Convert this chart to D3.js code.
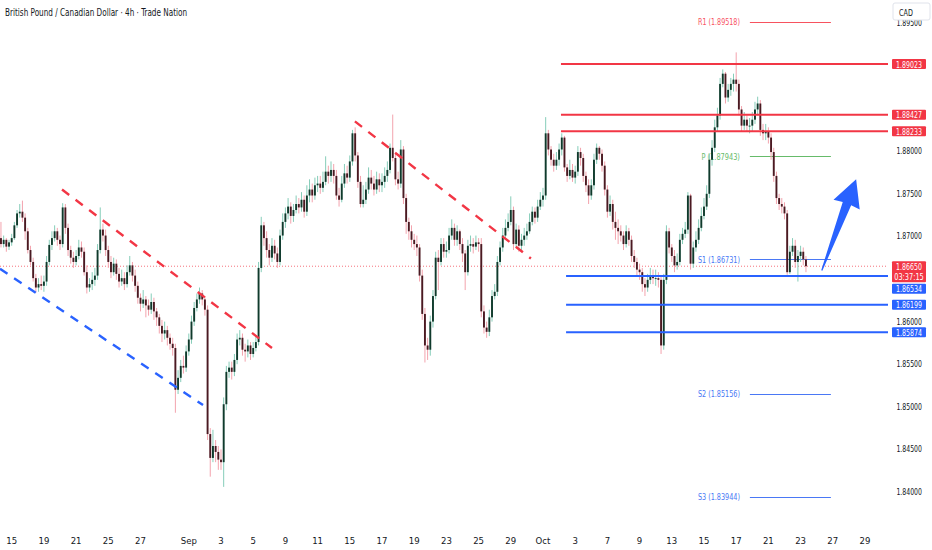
<!DOCTYPE html>
<html lang="en">
<head>
<meta charset="utf-8">
<title>GBPCAD 4h</title>
<script src="https://cdn.jsdelivr.net/npm/d3@7"></script>
<style>
  body { margin: 0; background: #fff; }
  text { font-family: "DejaVu Sans Condensed", "Roboto", sans-serif; }
</style>
</head>
<body>
<script>
var width = 932, height = 550;
var plotRight = 888;

// 4h bars, six per trading day, first bar = Aug 14 00:00
var firstOpen = 1.8696;
var closes = [
  1.8694, 1.8698, 1.8691, 1.8696, 1.8688, 1.8693,  // Aug 14
  1.8698, 1.8713, 1.8727, 1.8729, 1.8722, 1.8706,  // Aug 15
  1.8684, 1.8670, 1.8651, 1.8640, 1.8644, 1.8642,  // Aug 18
  1.8647, 1.8670, 1.8690, 1.8698, 1.8706, 1.8696,  // Aug 19
  1.8691, 1.8734, 1.8710, 1.8684, 1.8675, 1.8670,  // Aug 20
  1.8677, 1.8687, 1.8682, 1.8658, 1.8640, 1.8644,  // Aug 21
  1.8649, 1.8654, 1.8684, 1.8708, 1.8701, 1.8684,  // Aug 22
  1.8670, 1.8658, 1.8668, 1.8656, 1.8647, 1.8651,  // Aug 25
  1.8644, 1.8658, 1.8666, 1.8654, 1.8642, 1.8628,  // Aug 26
  1.8621, 1.8626, 1.8619, 1.8614, 1.8623, 1.8612,  // Aug 27
  1.8605, 1.8595, 1.8586, 1.8590, 1.8581, 1.8574,  // Aug 28
  1.8569, 1.8520, 1.8534, 1.8548, 1.8546, 1.8565,  // Aug 29
  1.8579, 1.8600, 1.8616, 1.8626, 1.8633, 1.8626,  // Sep 1
  1.8614, 1.8468, 1.8440, 1.8454, 1.8447, 1.8438,  // Sep 2
  1.8435, 1.8503, 1.8541, 1.8546, 1.8541, 1.8555,  // Sep 3
  1.8579, 1.8581, 1.8567, 1.8565, 1.8572, 1.8562,  // Sep 4
  1.8569, 1.8576, 1.8663, 1.8713, 1.8698, 1.8684,  // Sep 5
  1.8675, 1.8689, 1.8680, 1.8670, 1.8701, 1.8717,  // Sep 8
  1.8727, 1.8735, 1.8724, 1.8731, 1.8738, 1.8734,  // Sep 9
  1.8743, 1.8729, 1.8748, 1.8755, 1.8748, 1.8760,  // Sep 10
  1.8762, 1.8757, 1.8764, 1.8776, 1.8771, 1.8778,  // Sep 11
  1.8771, 1.8748, 1.8743, 1.8762, 1.8774, 1.8769,  // Sep 12
  1.8788, 1.8821, 1.8795, 1.8764, 1.8738, 1.8743,  // Sep 15
  1.8755, 1.8769, 1.8762, 1.8755, 1.8767, 1.8760,  // Sep 16
  1.8764, 1.8771, 1.8778, 1.8804, 1.8792, 1.8767,  // Sep 17
  1.8762, 1.8802, 1.8745, 1.8717, 1.8706, 1.8696,  // Sep 18
  1.8691, 1.8687, 1.8654, 1.8609, 1.8572, 1.8567,  // Sep 19
  1.8600, 1.8630, 1.8675, 1.8670, 1.8691, 1.8682,  // Sep 22
  1.8684, 1.8701, 1.8710, 1.8696, 1.8706, 1.8691,  // Sep 23
  1.8680, 1.8658, 1.8689, 1.8691, 1.8688, 1.8693,  // Sep 24
  1.8691, 1.8612, 1.8593, 1.8588, 1.8605, 1.8630,  // Sep 25
  1.8635, 1.8670, 1.8687, 1.8701, 1.8710, 1.8717,  // Sep 26
  1.8731, 1.8691, 1.8708, 1.8689, 1.8696, 1.8701,  // Sep 29
  1.8706, 1.8717, 1.8729, 1.8722, 1.8735, 1.8743,  // Sep 30
  1.8748, 1.8821, 1.8802, 1.8790, 1.8783, 1.8790,  // Oct 1
  1.8802, 1.8816, 1.8781, 1.8771, 1.8778, 1.8769,  // Oct 2
  1.8776, 1.8799, 1.8792, 1.8771, 1.8760, 1.8748,  // Oct 3
  1.8760, 1.8790, 1.8804, 1.8797, 1.8783, 1.8755,  // Oct 6
  1.8729, 1.8738, 1.8717, 1.8710, 1.8706, 1.8701,  // Oct 7
  1.8691, 1.8706, 1.8696, 1.8677, 1.8670, 1.8661,  // Oct 8
  1.8658, 1.8644, 1.8640, 1.8649, 1.8654, 1.8651,  // Oct 9
  1.8651, 1.8649, 1.8572, 1.8649, 1.8706, 1.8687,  // Oct 10
  1.8677, 1.8666, 1.8670, 1.8696, 1.8703, 1.8708,  // Oct 13
  1.8748, 1.8668, 1.8687, 1.8696, 1.8710, 1.8724,  // Oct 14
  1.8735, 1.8750, 1.8790, 1.8804, 1.8828, 1.8842,  // Oct 15
  1.8879, 1.8891, 1.8863, 1.8872, 1.8879, 1.8884,  // Oct 16
  1.8879, 1.8849, 1.8830, 1.8837, 1.8830, 1.8830,  // Oct 17
  1.8837, 1.8849, 1.8856, 1.8825, 1.8821, 1.8823,  // Oct 20
  1.8816, 1.8799, 1.8771, 1.8745, 1.8738, 1.8735,  // Oct 21
  1.8727, 1.8658, 1.8682, 1.8689, 1.8670, 1.8677,  // Oct 22
  1.8682, 1.8673, 1.8665                           // Oct 23
];
var highs = [
  1.8701, 1.8703, 1.8717, 1.8701, 1.8698, 1.8696,
  1.8703, 1.8717, 1.8731, 1.8738, 1.8742, 1.8727,
  1.8710, 1.8689, 1.8675, 1.8656, 1.8651, 1.8654,
  1.8654, 1.8677, 1.8696, 1.8706, 1.8713, 1.8710,
  1.8701, 1.8739, 1.8738, 1.8715, 1.8689, 1.8682,
  1.8684, 1.8696, 1.8694, 1.8687, 1.8666, 1.8651,
  1.8658, 1.8663, 1.8691, 1.8734, 1.8715, 1.8708,
  1.8689, 1.8677, 1.8675, 1.8673, 1.8663, 1.8661,
  1.8658, 1.8666, 1.8677, 1.8670, 1.8661, 1.8647,
  1.8633, 1.8637, 1.8630, 1.8626, 1.8633, 1.8628,
  1.8616, 1.8609, 1.8602, 1.8600, 1.8595, 1.8586,
  1.8581, 1.8574, 1.8543, 1.8555, 1.8560, 1.8572,
  1.8586, 1.8607, 1.8623, 1.8633, 1.8640, 1.8637,
  1.8630, 1.8619, 1.8475, 1.8473, 1.8461, 1.8454,
  1.8450, 1.8511, 1.8548, 1.8553, 1.8553, 1.8562,
  1.8586, 1.8590, 1.8586, 1.8574, 1.8579, 1.8576,
  1.8576, 1.8583, 1.8670, 1.8723, 1.8717, 1.8706,
  1.8691, 1.8698, 1.8696, 1.8687, 1.8708, 1.8727,
  1.8734, 1.8745, 1.8740, 1.8738, 1.8748, 1.8745,
  1.8752, 1.8748, 1.8760, 1.8767, 1.8762, 1.8769,
  1.8771, 1.8771, 1.8776, 1.8794, 1.8783, 1.8788,
  1.8785, 1.8778, 1.8757, 1.8771, 1.8785, 1.8783,
  1.8795, 1.8825, 1.8828, 1.8799, 1.8771, 1.8760,
  1.8764, 1.8781, 1.8778, 1.8771, 1.8776, 1.8774,
  1.8774, 1.8781, 1.8788, 1.8809, 1.8843, 1.8797,
  1.8776, 1.8813, 1.8806, 1.8750, 1.8722, 1.8713,
  1.8703, 1.8701, 1.8691, 1.8661, 1.8616, 1.8581,
  1.8607, 1.8637, 1.8682, 1.8684, 1.8698, 1.8698,
  1.8694, 1.8710, 1.8720, 1.8715, 1.8713, 1.8708,
  1.8698, 1.8684, 1.8696, 1.8701, 1.8698, 1.8701,
  1.8698, 1.8698, 1.8619, 1.8600, 1.8614, 1.8637,
  1.8644, 1.8677, 1.8694, 1.8710, 1.8720, 1.8727,
  1.8747, 1.8735, 1.8715, 1.8713, 1.8703, 1.8710,
  1.8715, 1.8727, 1.8735, 1.8734, 1.8743, 1.8752,
  1.8757, 1.8840, 1.8825, 1.8806, 1.8797, 1.8799,
  1.8809, 1.8821, 1.8818, 1.8785, 1.8790, 1.8785,
  1.8783, 1.8806, 1.8804, 1.8797, 1.8776, 1.8767,
  1.8767, 1.8797, 1.8809, 1.8806, 1.8802, 1.8788,
  1.8760, 1.8748, 1.8743, 1.8729, 1.8720, 1.8713,
  1.8706, 1.8713, 1.8710, 1.8701, 1.8684, 1.8675,
  1.8668, 1.8663, 1.8651, 1.8656, 1.8663, 1.8661,
  1.8661, 1.8658, 1.8654, 1.8656, 1.8713, 1.8710,
  1.8691, 1.8684, 1.8680, 1.8703, 1.8710, 1.8717,
  1.8752, 1.8750, 1.8694, 1.8706, 1.8720, 1.8734,
  1.8745, 1.8760, 1.8797, 1.8813, 1.8837, 1.8851,
  1.8886, 1.8896, 1.8893, 1.8879, 1.8886, 1.8891,
  1.8916, 1.8884, 1.8853, 1.8846, 1.8842, 1.8839,
  1.8846, 1.8858, 1.8864, 1.8860, 1.8832, 1.8832,
  1.8828, 1.8821, 1.8804, 1.8776, 1.8750, 1.8745,
  1.8740, 1.8731, 1.8689, 1.8698, 1.8696, 1.8684,
  1.8689, 1.8687, 1.8677
];
var lows = [
  1.8689, 1.8690, 1.8687, 1.8687, 1.8682, 1.8684,
  1.8689, 1.8696, 1.8710, 1.8722, 1.8717, 1.8696,
  1.8680, 1.8666, 1.8647, 1.8634, 1.8635, 1.8637,
  1.8635, 1.8642, 1.8666, 1.8684, 1.8694, 1.8689,
  1.8684, 1.8687, 1.8703, 1.8677, 1.8668, 1.8663,
  1.8666, 1.8673, 1.8675, 1.8654, 1.8633, 1.8635,
  1.8637, 1.8642, 1.8649, 1.8680, 1.8694, 1.8677,
  1.8663, 1.8651, 1.8654, 1.8649, 1.8640, 1.8642,
  1.8637, 1.8640, 1.8654, 1.8647, 1.8635, 1.8621,
  1.8612, 1.8616, 1.8605, 1.8607, 1.8609, 1.8602,
  1.8595, 1.8586, 1.8576, 1.8579, 1.8572, 1.8567,
  1.8560, 1.8493, 1.8515, 1.8529, 1.8539, 1.8541,
  1.8560, 1.8574, 1.8595, 1.8612, 1.8621, 1.8619,
  1.8607, 1.8461, 1.8418, 1.8435, 1.8435, 1.8426,
  1.8426, 1.8406, 1.8496, 1.8534, 1.8532, 1.8536,
  1.8550, 1.8572, 1.8560, 1.8553, 1.8558, 1.8555,
  1.8558, 1.8565, 1.8572, 1.8658, 1.8689, 1.8675,
  1.8666, 1.8670, 1.8673, 1.8663, 1.8666, 1.8696,
  1.8710, 1.8720, 1.8715, 1.8717, 1.8727, 1.8727,
  1.8729, 1.8722, 1.8724, 1.8740, 1.8740, 1.8743,
  1.8752, 1.8750, 1.8752, 1.8760, 1.8762, 1.8764,
  1.8762, 1.8743, 1.8735, 1.8740, 1.8757, 1.8762,
  1.8764, 1.8783, 1.8788, 1.8757, 1.8734, 1.8734,
  1.8738, 1.8750, 1.8755, 1.8748, 1.8750, 1.8752,
  1.8752, 1.8757, 1.8764, 1.8774, 1.8788, 1.8760,
  1.8755, 1.8757, 1.8738, 1.8703, 1.8696, 1.8687,
  1.8684, 1.8677, 1.8647, 1.8602, 1.8552, 1.8555,
  1.8560, 1.8593, 1.8626, 1.8637, 1.8666, 1.8675,
  1.8675, 1.8680, 1.8696, 1.8689, 1.8689, 1.8684,
  1.8670, 1.8637, 1.8654, 1.8682, 1.8680, 1.8684,
  1.8682, 1.8605, 1.8586, 1.8581, 1.8583, 1.8600,
  1.8626, 1.8630, 1.8666, 1.8682, 1.8696, 1.8706,
  1.8713, 1.8684, 1.8687, 1.8682, 1.8684, 1.8689,
  1.8696, 1.8703, 1.8713, 1.8715, 1.8717, 1.8731,
  1.8735, 1.8743, 1.8795, 1.8783, 1.8776, 1.8778,
  1.8783, 1.8795, 1.8776, 1.8764, 1.8767, 1.8764,
  1.8762, 1.8771, 1.8783, 1.8764, 1.8752, 1.8738,
  1.8743, 1.8755, 1.8785, 1.8790, 1.8776, 1.8748,
  1.8722, 1.8724, 1.8708, 1.8696, 1.8691, 1.8694,
  1.8684, 1.8687, 1.8689, 1.8670, 1.8663, 1.8654,
  1.8649, 1.8635, 1.8630, 1.8635, 1.8644, 1.8644,
  1.8642, 1.8640, 1.8562, 1.8567, 1.8644, 1.8680,
  1.8670, 1.8658, 1.8661, 1.8666, 1.8691, 1.8698,
  1.8703, 1.8661, 1.8663, 1.8682, 1.8691, 1.8706,
  1.8720, 1.8731, 1.8745, 1.8783, 1.8799, 1.8823,
  1.8837, 1.8875, 1.8856, 1.8858, 1.8865, 1.8870,
  1.8870, 1.8842, 1.8823, 1.8825, 1.8823, 1.8821,
  1.8823, 1.8832, 1.8842, 1.8818, 1.8813, 1.8813,
  1.8809, 1.8790, 1.8764, 1.8738, 1.8731, 1.8727,
  1.8720, 1.8655, 1.8656, 1.8677, 1.8663, 1.8647,
  1.8670, 1.8666, 1.8658
];

var lastPrice = 1.86650;
var countdown = "03:37:15";

// axis labels (first bar of the day)
var tickDates = ["2025-08-15","2025-08-19","2025-08-21","2025-08-25","2025-08-27","2025-09-01","2025-09-03",
  "2025-09-05","2025-09-09","2025-09-11","2025-09-15","2025-09-17","2025-09-19","2025-09-23","2025-09-25",
  "2025-09-29","2025-10-01","2025-10-03","2025-10-07","2025-10-09","2025-10-13","2025-10-15","2025-10-17",
  "2025-10-21","2025-10-23","2025-10-27","2025-10-29"];
var tickTexts = ["15","19","21","25","27","Sep","3","5","9","11","15","17","19","23","25","29","Oct","3","7",
  "9","13","15","17","21","23","27","29"];
var priceTicks = [1.840, 1.845, 1.850, 1.855, 1.860, 1.865, 1.870, 1.875, 1.880, 1.885, 1.890, 1.895];

var resistance = [1.89023, 1.88427, 1.88233];
var support = [1.86534, 1.86199, 1.85874];
var pivotNames = ["R1", "P", "S1", "S2", "S3"];
var pivotValues = [1.89518, 1.87943, 1.86731, 1.85156, 1.83944];
var pivotColors = ["#f7525f", "#66bb6a", "#4a78f5", "#4a78f5", "#4a78f5"];

// dashed channel lines: [bar, price] end points
var trendLines = [
  { color: "#2962ff", from: [1.64, 1.8662], to: [77.3, 1.8502] },
  { color: "#f23645", from: [24.75, 1.8755], to: [103.0, 1.8569] },
  { color: "#f23645", from: [133.9, 1.8835], to: [199.5, 1.8674] }
];
var arrowFrom = [307.9, 1.8660], arrowTo = [320.7, 1.8767];

// trading days (weekends skipped), six 4h bars each
var tradingDays = d3.timeDays(new Date(2025, 7, 14), new Date(2025, 9, 30))
  .filter(function(d) { return d.getDay() % 6 !== 0; });
var fmtDay = d3.timeFormat("%Y-%m-%d");
var dayKeys = tradingDays.map(fmtDay);

var x = d3.scaleLinear().domain([0, 330]).range([-4.4, -4.4 + 330 * 2.6833]);
var y = d3.scaleLinear().domain([1.84, 1.895]).range([492, 23.4]);

var bars = closes.map(function(c, i) {
  return { i: i, o: i === 0 ? firstOpen : closes[i - 1], h: highs[i], l: lows[i], c: c };
});

var svg = d3.select("body").append("svg")
  .attr("width", width).attr("height", height)
  .style("display", "block");

svg.append("rect").attr("width", width).attr("height", height).attr("fill", "#ffffff");

svg.append("clipPath").attr("id", "plot")
  .append("rect").attr("x", 0).attr("y", 0).attr("width", plotRight).attr("height", 530);

var plot = svg.append("g").attr("clip-path", "url(#plot)");

// narrow text helper: the chart font is condensed
function narrow(sel, str, perChar) {
  return sel.text(str).attr("textLength", str.length * perChar).attr("lengthAdjust", "spacingAndGlyphs");
}

// pivot levels (behind candles)
var pivX0 = x(281.1), pivX1 = x(311.3);
pivotValues.forEach(function(v, k) {
  plot.append("line")
    .attr("x1", pivX0).attr("x2", pivX1)
    .attr("y1", Math.round(y(v)) + 0.5).attr("y2", Math.round(y(v)) + 0.5)
    .attr("stroke", pivotColors[k]).attr("stroke-width", 1);
  var t = plot.append("text")
    .attr("x", x(277.4)).attr("y", y(v))
    .attr("text-anchor", "end").attr("dominant-baseline", "central")
    .attr("font-size", "9.5px").attr("fill", pivotColors[k]);
  narrow(t, pivotNames[k] + " (" + v.toFixed(5) + ")", 3.5);
});

// last price dotted line
plot.append("line")
  .attr("x1", 0).attr("x2", plotRight)
  .attr("y1", y(lastPrice)).attr("y2", y(lastPrice))
  .attr("stroke", "#f23645").attr("stroke-opacity", 0.7)
  .attr("stroke-width", 1).attr("stroke-dasharray", "1,2");

// candles
var barW = 1.9;
plot.append("g").selectAll("line")
  .data(bars).enter().append("line")
  .attr("x1", function(d) { return x(d.i); })
  .attr("x2", function(d) { return x(d.i); })
  .attr("y1", function(d) { return y(d.h); })
  .attr("y2", function(d) { return y(d.l); })
  .attr("stroke", function(d) { return d.c >= d.o ? "#86cdb9" : "#f3a3ad"; })
  .attr("stroke-width", 1);

plot.append("g").selectAll("rect")
  .data(bars).enter().append("rect")
  .attr("x", function(d) { return x(d.i) - barW / 2; })
  .attr("y", function(d) { return y(Math.max(d.o, d.c)); })
  .attr("width", barW)
  .attr("height", function(d) { return Math.max(0.9, Math.abs(y(d.o) - y(d.c))); })
  .attr("fill", function(d) { return d.c >= d.o ? "#103a2c" : "#4a1a22"; });

// dashed trend lines
trendLines.forEach(function(t) {
  plot.append("line")
    .attr("x1", x(t.from[0])).attr("y1", y(t.from[1]))
    .attr("x2", x(t.to[0])).attr("y2", y(t.to[1]))
    .attr("stroke", t.color).attr("stroke-width", 2.4)
    .attr("stroke-dasharray", "9,8");
});

// horizontal key levels
resistance.forEach(function(v) {
  plot.append("line")
    .attr("x1", x(210.7)).attr("x2", plotRight)
    .attr("y1", y(v)).attr("y2", y(v))
    .attr("stroke", "#f23645").attr("stroke-width", 2);
});
support.forEach(function(v) {
  plot.append("line")
    .attr("x1", x(212.6)).attr("x2", plotRight)
    .attr("y1", y(v)).attr("y2", y(v))
    .attr("stroke", "#2962ff").attr("stroke-width", 2);
});

// arrow
(function() {
  var ax = x(arrowFrom[0]), ay = y(arrowFrom[1]);
  var bx = x(arrowTo[0]), by = y(arrowTo[1]);
  var dx = bx - ax, dy = by - ay, len = Math.sqrt(dx * dx + dy * dy);
  var ux = dx / len, uy = dy / len, vx = -uy, vy = ux;
  var shape = [[0, -0.6], [len - 26, -4.5], [len - 27, -14], [len, 0], [len - 27, 14], [len - 26, 4.5], [0, 0.6]];
  var pts = shape.map(function(p) { return [ax + ux * p[0] + vx * p[1], ay + uy * p[0] + vy * p[1]]; });
  svg.append("path").attr("d", d3.line()(pts) + "Z").attr("fill", "#2962ff");
})();

// price boxes with simple overlap push-down
var boxes = [];
resistance.forEach(function(v) { boxes.push({ lines: [v.toFixed(5)], yc: y(v), fill: "#f23645" }); });
boxes.push({ lines: [lastPrice.toFixed(5), countdown], yc: y(lastPrice), fill: "#f23645" });
support.forEach(function(v) { boxes.push({ lines: [v.toFixed(5)], yc: y(v), fill: "#2962ff" }); });
boxes.sort(function(a, b) { return a.yc - b.yc; });
var lineH = 10;
var prevBottom = -100;
boxes.forEach(function(b) {
  var top = b.yc - lineH / 2;
  if (top < prevBottom + 1.5) top = prevBottom + 1.5;
  b.top = top;
  b.h = lineH * b.lines.length + (b.lines.length > 1 ? 1 : 0);
  prevBottom = top + b.h;
});

// price axis labels, skipped where a price box sits on top of them
var axisG = svg.append("g");
priceTicks.forEach(function(v) {
  var ty = y(v);
  var hidden = boxes.some(function(b) { return ty > b.top - 4 && ty < b.top + b.h + 4; });
  if (hidden) return;
  var t = axisG.append("text")
    .attr("x", 922).attr("y", ty)
    .attr("text-anchor", "end").attr("dominant-baseline", "central")
    .attr("font-size", "9px").attr("fill", "#131722");
  narrow(t, v.toFixed(5), 3.65);
});

boxes.forEach(function(b) {
  axisG.append("rect")
    .attr("x", 892).attr("y", b.top).attr("width", 34).attr("height", b.h)
    .attr("rx", 1).attr("fill", b.fill);
  b.lines.forEach(function(str, k) {
    var t = axisG.append("text")
      .attr("x", 909).attr("y", b.top + lineH / 2 + k * lineH + 0.5)
      .attr("text-anchor", "middle").attr("dominant-baseline", "central")
      .attr("font-size", "9px").attr("fill", "#ffffff");
    narrow(t, str, 3.7);
  });
});

// currency box
svg.append("rect").attr("x", 893).attr("y", 3).attr("width", 37).attr("height", 17)
  .attr("rx", 2).attr("fill", "#ffffff").attr("stroke", "#e0e3eb");
narrow(svg.append("text").attr("x", 906).attr("y", 12)
  .attr("text-anchor", "middle").attr("dominant-baseline", "central")
  .attr("font-size", "9.5px").attr("fill", "#131722"), "CAD", 4.6);

// time axis
tickDates.forEach(function(dstr, k) {
  var idx = dayKeys.indexOf(dstr);
  svg.append("text")
    .attr("x", x(idx * 6)).attr("y", 540)
    .attr("text-anchor", "middle").attr("dominant-baseline", "central")
    .attr("font-size", "9.5px").attr("fill", "#131722")
    .text(tickTexts[k]);
});

// title
narrow(svg.append("text").attr("x", 5).attr("y", 12)
  .attr("dominant-baseline", "central")
  .attr("font-size", "10px").attr("fill", "#131722"),
  "British Pound / Canadian Dollar \u00b7 4h \u00b7 Trade Nation", 3.57);
</script>
</body>
</html>
